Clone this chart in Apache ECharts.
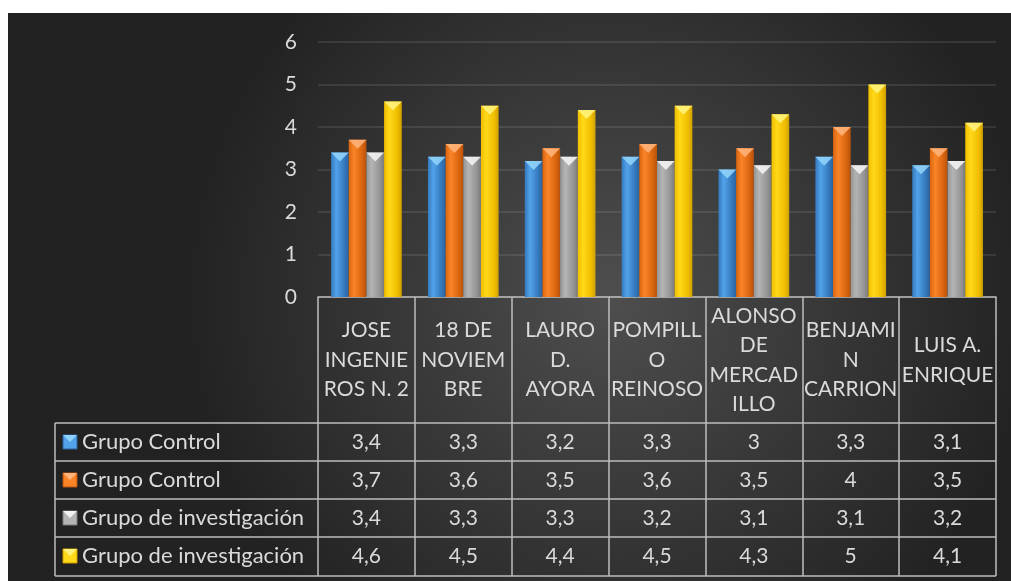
<!DOCTYPE html>
<html>
<head>
<meta charset="utf-8">
<script src="https://cdn.jsdelivr.net/npm/echarts@6/dist/echarts.min.js"></script>
<style>
html, body { margin: 0; padding: 0; background: #fff; }
#chart { position: absolute; left: 8px; top: 13px; width: 1003px; height: 568px; }
</style>
</head>
<body>
<div id="chart"></div>
<script>
// etiquetas de las escuelas, tal como se ven cortadas en la tabla
var schoolLabels = ['JOSE\nINGENIE\nROS N. 2', '18 DE\nNOVIEM\nBRE', 'LAURO\nD.\nAYORA', 'POMPILL\nO\nREINOSO', 'ALONSO\nDE\nMERCAD\nILLO', 'BENJAMI\nN\nCARRION', 'LUIS A.\nENRIQUE'];
var seriesNames = ['Grupo Control', 'Grupo Control', 'Grupo de investigación', 'Grupo de investigación'];
var control1 = [3.4, 3.3, 3.2, 3.3, 3, 3.3, 3.1];
var control2 = [3.7, 3.6, 3.5, 3.6, 3.5, 4, 3.5];
var invest1 = [3.4, 3.3, 3.3, 3.2, 3.1, 3.1, 3.2];
var invest2 = [4.6, 4.5, 4.4, 4.5, 4.3, 5, 4.1];
var yTicks = [0, 1, 2, 3, 4, 5, 6];

var allData = [control1, control2, invest1, invest2];
// colores: borde, centro, borde oscuro, punta
var palette = [
    ['#3579bd', '#52a2ea', '#2a63a0', '#8fd3fa'],
    ['#d9650f', '#fb8428', '#b7520c', '#ffb27a'],
    ['#959595', '#b4b4b4', '#7a7a7a', '#f2f2f2'],
    ['#f0be00', '#ffd91a', '#cf9f00', '#fff27a']
];
var textColor = '#dadada';
var lineColor = '#bdbdbd';
var font = 'Lato';
var fs = 21;

function fmt(v) {
    return String(v).replace('.', ',');
}

var myChart = echarts.init(document.getElementById('chart'));

var series = [];
var xAxes = [];
var graphics = [];

//eje principal con las escuelas
xAxes.push({
    type: 'category',
    position: 'bottom',
    data: schoolLabels,
    axisLine: { show: true, lineStyle: { color: lineColor, width: 1.5 } },
    axisTick: { show: true, length: 279, lineStyle: { color: lineColor, width: 1.5 } },
    axisLabel: {
        color: textColor, fontSize: fs, fontFamily: font,
        lineHeight: 29.5, margin: 63, verticalAlign: 'middle', align: 'center', interval: 0
    }
});

//filas de la tabla de datos: un eje por serie
for (var i = 0; i < allData.length; i++) {
    (function (idx) {
        xAxes.push({
            type: 'category',
            position: 'bottom',
            offset: 0,
            data: schoolLabels,
            axisLine: { show: false },
            axisTick: { show: false },
            axisLabel: {
                color: textColor, fontSize: fs, fontFamily: font,
                margin: 145 + 38 * idx, verticalAlign: 'middle', interval: 0,
                formatter: function (val, k) { return fmt(allData[idx][k]); }
            }
        });
    })(i);
}

for (var i = 0; i < allData.length; i++) {
    var c = palette[i];
    series.push({
        name: seriesNames[i],
        type: 'bar',
        data: allData[i],
        barGap: 0,
        barCategoryGap: '27%',
        itemStyle: {
            color: {
                type: 'linear', x: 0, y: 0, x2: 1, y2: 0,
                colorStops: [
                    { offset: 0, color: c[0] },
                    { offset: 0.3, color: c[1] },
                    { offset: 0.75, color: c[0] },
                    { offset: 1, color: c[2] }
                ]
            }
        }
    });
}
//punta de cada barra
for (var i = 0; i < allData.length; i++) {
    series.push({
        name: seriesNames[i],
        type: 'pictorialBar',
        data: allData[i],
        barGap: 0,
        barCategoryGap: '27%',
        symbol: 'path://M0,0 L10,0 L5,10 Z',
        symbolSize: ['100%', 9],
        symbolPosition: 'end',
        z: 5,
        itemStyle: { color: palette[i][3], opacity: 0.9 }
    });
}

//lineas de la tabla y leyenda
var rowTop = 410, rowH = 38, tLeft = 47, tRight = 988;
for (var r = 0; r <= 4; r++) {
    var yy = rowTop + rowH * r + (r == 4 ? 1 : 0);
    graphics.push({
        type: 'line',
        shape: { x1: tLeft, y1: yy, x2: tRight, y2: yy },
        style: { stroke: lineColor, lineWidth: 1.5 }
    });
}
graphics.push({
    type: 'line',
    shape: { x1: tLeft, y1: rowTop, x2: tLeft, y2: rowTop + rowH * 4 + 1 },
    style: { stroke: lineColor, lineWidth: 1.5 }
});
for (var i = 0; i < seriesNames.length; i++) {
    var cy = rowTop + rowH * i + 19;
    var c = palette[i];
    graphics.push({
        type: 'rect',
        shape: { x: 55, y: cy - 7, width: 14, height: 14 },
        style: { fill: c[1], stroke: c[2], lineWidth: 1 }
    });
    graphics.push({
        type: 'polygon',
        shape: { points: [[55, cy - 7], [69, cy - 7], [62, cy]] },
        style: { fill: c[3] }
    });
    graphics.push({
        type: 'text',
        x: 74, y: cy,
        style: { text: seriesNames[i], fill: textColor, fontSize: 22, fontFamily: font, verticalAlign: 'middle' }
    });
}

var option = {
    backgroundColor: {
        type: 'radial', x: 0.6, y: 0.5, r: 0.75,
        colorStops: [
            { offset: 0, color: '#4e4e4e' },
            { offset: 1, color: '#222222' }
        ]
    },
    animation: false,
    grid: { left: 310, right: 15, top: 29, bottom: 284, containLabel: false, outerBoundsMode: 'none' },
    xAxis: xAxes,
    yAxis: {
        type: 'value', min: 0, max: 6, interval: 1,
        axisLine: { show: false },
        axisTick: { show: false },
        axisLabel: { color: textColor, fontSize: fs, fontFamily: font, margin: 21 },
        splitLine: { lineStyle: { color: 'rgba(255,255,255,0.13)', width: 1.5 } }
    },
    series: series,
    graphic: graphics
};
myChart.setOption(option);
</script>
</body>
</html>
